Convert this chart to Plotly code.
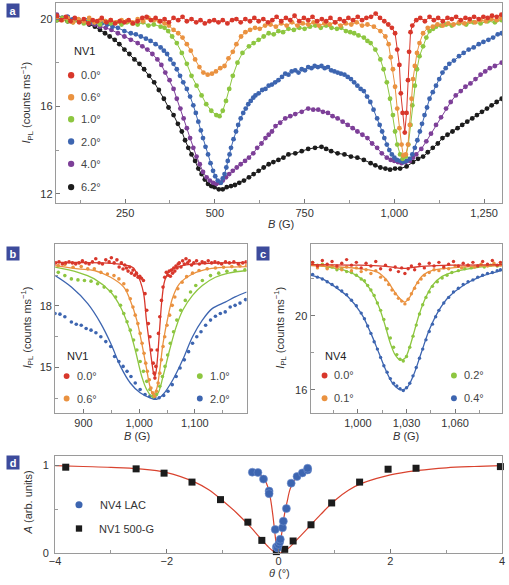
import plotly.graph_objects as go

W, H = 509, 585
def X(px): return px / W
def Y(py): return 1 - py / H

FONT = "Liberation Sans Narrow, Arial Narrow, Liberation Sans, Arial"
C_RED = "#d8372b"; C_ORA = "#ea9240"; C_GRN = "#8dc640"
C_BLU = "#3d65b0"; C_PUR = "#7d3f98"; C_BLK = "#1c1c1c"
FIT = "#d9432f"

# ---------------- Panel a : NV1, I_PL vs B ----------------
a_red_B = [60,72,85,98,110,122,135,148,160,172,185,198,210,222,235,248,260,272,285,298,310,322,335,348,360,372,385,398,410,422,435,448,460,472,485,498,510,522,535,548,560,572,585,598,610,622,635,648,660,672,685,698,710,722,735,748,760,772,785,798,810,822,835,848,860,872,885,898,910,922,935,948,960,972,983,993,1002,1008,1014,1018,1023,1029,1034,1038,1041,1045,1050,1061,1072,1085,1098,1110,1122,1135,1148,1160,1172,1185,1198,1210,1222,1235,1248,1260,1272,1285,1298]
a_red_I = [20.15,19.95,20.1,19.9,20.05,19.85,20.0,19.8,19.95,19.9,20.05,19.85,19.95,19.8,19.9,19.85,19.95,19.8,19.9,20.05,20.1,19.95,20.05,19.9,20.0,19.85,20.05,19.95,20.1,19.9,20.0,19.85,19.95,19.8,19.9,19.95,19.85,19.95,19.8,19.95,20.0,19.85,20.0,19.9,20.05,19.9,20.0,19.85,19.95,20.1,19.9,20.05,19.95,20.15,19.9,20.05,19.95,20.1,19.9,20.0,19.9,20.05,19.85,20.0,19.9,20.05,19.95,20.1,19.95,20.05,20.1,20.25,20.05,19.9,19.75,19.6,19.35,18.6,17.9,16.6,15.7,14.8,15.7,17.2,18.5,19.4,19.7,19.95,20.05,19.9,20.1,19.95,20.05,19.9,20.05,20.0,20.1,19.95,20.05,20.0,20.1,20.0,20.1,20.05,20.15,20.1,20.2]

a_ora_B = [60,75,90,105,120,135,150,165,180,195,210,225,240,255,270,285,300,315,330,345,360,372,385,398,410,422,433,445,457,468,480,492,503,515,527,538,550,560,573,585,598,612,625,640,655,670,685,700,715,730,745,760,775,790,805,820,835,850,865,880,895,910,925,943,961,975,984,990,996,1002,1008,1014,1020,1025,1032,1038,1043,1048,1052,1057,1063,1070,1080,1093,1107,1120,1135,1150,1165,1180,1195,1210,1225,1240,1255,1270,1285,1298]
a_ora_I = [20.1,19.95,20.05,19.85,20.0,19.9,20.05,19.85,19.95,19.9,19.95,19.85,19.95,19.9,19.85,20.0,19.9,20.05,19.95,19.9,19.8,19.7,19.5,19.35,19.15,18.85,18.55,18.15,17.8,17.55,17.45,17.5,17.6,17.75,17.85,18.2,18.5,18.85,19.2,19.4,19.5,19.6,19.55,19.7,19.75,19.65,19.8,19.7,19.85,19.7,19.8,19.75,19.85,19.7,19.8,19.75,19.85,19.7,19.8,19.75,19.85,19.7,19.75,19.65,19.45,19.2,18.85,18.25,17.7,16.9,15.9,15.0,14.25,13.75,13.8,14.25,15.15,16.35,17.25,17.85,18.45,18.9,19.35,19.6,19.65,19.75,19.7,19.8,19.75,19.85,19.8,19.9,19.85,19.95,19.9,20.0,19.95,20.05]

a_grn_B = [60,75,90,105,120,135,150,165,180,195,210,225,240,255,270,285,300,315,330,349,360,370,381,394,408,422,435,449,463,476,490,504,513,522,531,540,550,563,577,595,608,622,636,650,664,677,690,705,720,735,750,765,780,795,810,825,840,852,865,877,888,900,915,925,934,947,961,970,979,988,996,1002,1008,1016,1023,1032,1039,1045,1050,1057,1063,1070,1080,1089,1098,1108,1116,1130,1144,1160,1180,1200,1220,1240,1260,1280,1299]
a_grn_I = [19.95,20.05,19.9,19.85,19.95,19.8,19.9,19.85,19.75,19.9,19.8,19.85,19.75,19.85,19.8,19.75,19.85,19.7,19.75,19.65,19.6,19.45,19.2,18.9,18.45,17.95,17.4,16.95,16.5,16.1,15.8,15.6,15.55,15.8,16.25,16.8,17.4,18.0,18.45,18.75,18.9,19.05,19.2,19.35,19.3,19.45,19.4,19.55,19.5,19.6,19.55,19.65,19.7,19.6,19.7,19.6,19.55,19.6,19.45,19.4,19.35,19.25,19.15,19.0,18.9,18.6,18.15,17.7,17.1,16.35,15.6,14.85,14.25,13.8,13.6,13.7,14.25,15.15,16.05,16.95,17.7,18.3,18.75,19.15,19.45,19.55,19.65,19.7,19.75,19.7,19.8,19.75,19.85,19.8,19.9,19.85,19.95]

a_blu_B = [60,75,90,105,120,139,155,170,185,200,215,230,248,266,280,294,308,321,335,349,358,367,376,385,394,403,412,422,431,440,447,454,461,467,474,481,488,495,501,508,517,522,527,532,536,541,545,552,559,565,572,579,586,593,600,607,613,622,632,641,650,659,668,677,687,696,705,714,724,733,742,751,760,769,778,787,797,806,815,824,833,842,851,861,870,879,888,897,906,915,924,933,942,952,959,966,972,979,986,993,1000,1007,1016,1025,1034,1043,1050,1057,1064,1071,1077,1084,1091,1098,1107,1116,1125,1134,1143,1153,1166,1180,1193,1207,1221,1235,1248,1262,1275,1288,1299]
a_blu_I = [20.15,20.05,20.1,20.0,19.95,19.95,19.9,19.85,19.8,19.75,19.65,19.6,19.45,19.35,19.3,19.2,19.1,19.0,18.85,18.7,18.55,18.4,18.15,17.95,17.7,17.4,17.1,16.8,16.45,16.05,15.7,15.3,14.9,14.55,14.15,13.8,13.4,13.05,12.8,12.6,12.5,12.7,12.9,13.2,13.5,13.8,14.1,14.5,14.85,15.15,15.45,15.7,15.9,16.1,16.25,16.4,16.5,16.6,16.75,16.8,16.95,17.0,17.1,17.2,17.35,17.5,17.45,17.6,17.65,17.55,17.7,17.65,17.8,17.75,17.85,17.8,17.85,17.75,17.8,17.65,17.6,17.55,17.5,17.45,17.35,17.25,17.1,16.95,16.8,16.7,16.45,16.2,15.85,15.45,15.15,14.85,14.55,14.25,14.0,13.8,13.65,13.55,13.5,13.45,13.5,13.6,13.8,14.1,14.45,14.85,15.2,15.6,15.95,16.35,16.65,16.95,17.25,17.55,17.75,17.95,18.1,18.3,18.45,18.6,18.7,18.85,18.95,19.05,19.15,19.3,19.35]

a_pur_B = [60,75,90,105,121,135,150,166,180,196,212,230,248,266,285,298,312,326,340,351,362,374,385,394,404,413,422,431,440,449,458,467,477,486,495,504,513,522,531,540,550,561,572,584,595,607,618,630,641,650,659,669,682,696,710,724,742,760,774,788,801,815,828,842,856,870,884,897,911,925,938,952,965,979,990,1000,1010,1020,1031,1043,1052,1061,1075,1089,1102,1116,1130,1144,1157,1171,1185,1198,1212,1226,1240,1253,1266,1280,1299]
a_pur_I = [20.2,20.05,20.1,19.95,19.95,19.85,19.8,19.75,19.65,19.6,19.5,19.35,19.2,19.05,18.9,18.75,18.6,18.4,18.15,17.9,17.55,17.2,16.8,16.35,15.9,15.45,15.0,14.55,14.1,13.7,13.35,13.0,12.75,12.6,12.5,12.45,12.5,12.6,12.75,12.9,13.05,13.2,13.35,13.5,13.65,13.85,14.1,14.3,14.55,14.7,14.85,15.1,15.25,15.45,15.55,15.65,15.75,15.9,15.85,15.85,15.75,15.7,15.55,15.45,15.3,15.15,15.0,14.85,14.7,14.55,14.3,14.1,13.85,13.65,13.55,13.5,13.45,13.4,13.45,13.5,13.65,13.8,14.05,14.4,14.75,15.15,15.5,15.9,16.2,16.5,16.7,16.9,17.05,17.25,17.45,17.6,17.75,17.85,18.0]

a_blk_B = [60,75,90,105,121,135,150,166,180,194,207,221,234,248,262,276,290,303,317,331,344,358,371,385,397,408,417,426,435,445,454,463,472,481,490,499,511,522,533,545,556,568,581,595,608,622,636,650,663,677,691,705,724,742,760,779,797,810,824,842,861,879,897,915,934,947,961,975,988,1002,1016,1034,1052,1066,1080,1093,1107,1121,1134,1148,1162,1176,1189,1203,1217,1230,1244,1258,1271,1285,1299]
a_blk_I = [19.95,20.0,19.9,19.95,19.9,19.85,19.75,19.65,19.5,19.35,19.2,19.05,18.85,18.6,18.4,18.15,17.95,17.7,17.4,17.1,16.75,16.35,15.95,15.6,15.2,14.85,14.45,14.1,13.8,13.5,13.15,12.9,12.65,12.45,12.35,12.3,12.2,12.2,12.3,12.35,12.4,12.5,12.6,12.75,12.9,13.05,13.2,13.35,13.45,13.55,13.65,13.8,13.85,13.95,14.05,14.1,14.15,14.05,13.95,13.85,13.8,13.7,13.65,13.55,13.4,13.3,13.2,13.15,13.1,13.15,13.15,13.25,13.45,13.6,13.7,13.9,14.1,14.3,14.55,14.7,14.85,15.0,15.15,15.3,15.45,15.6,15.75,15.9,16.05,16.2,16.35]

a_series = [("6.2°", a_blk_B, a_blk_I, C_BLK), ("4.0°", a_pur_B, a_pur_I, C_PUR),
            ("2.0°", a_blu_B, a_blu_I, C_BLU), ("1.0°", a_grn_B, a_grn_I, C_GRN),
            ("0.6°", a_ora_B, a_ora_I, C_ORA), ("0.0°", a_red_B, a_red_I, C_RED)]

# ---------------- Panel b : NV1 zoom near LAC ----------------
b_red_B = [850,856,862,868,874,880,886,892,898,904,910,916,922,928,934,940,946,950,955,960,964,968,971,974,977,980,983,986,989,992,995,998,1001,1004,1007.6,1010.5,1013.5,1016.4,1019.3,1022,1025.2,1027,1028.2,1030,1032.3,1034.6,1037,1040,1042.8,1045.8,1048.7,1052,1054,1056,1058,1060,1062,1064,1066,1068,1070,1072,1075,1078,1081,1084,1087,1090,1094,1098,1103,1108,1113,1118,1124,1130,1136,1142,1148,1155,1162,1170,1178,1186,1192]
b_red_I = [20.1,20.15,20.05,20.1,20.15,20.1,20.05,20.1,20.2,20.1,20.05,20.15,20.3,20.1,20.05,20.25,20.15,20.35,20.1,20.25,19.9,20.1,19.8,20.0,19.85,19.7,19.9,19.6,19.75,19.5,19.6,19.4,19.45,19.35,19.24,18.6,17.79,17.14,16.5,15.85,15.21,14.72,14.48,15.05,15.85,16.66,17.47,18.27,18.92,19.4,19.64,19.5,19.7,19.45,19.75,19.6,19.85,19.7,19.95,19.85,20.05,20.1,19.9,20.2,20.05,20.3,20.1,20.2,20.0,20.1,20.2,20.05,20.15,20.1,20.2,20.1,20.15,20.1,20.05,20.15,20.1,20.15,20.05,20.1,20.15]
b_red_fit_B = [850,900,950,980,990,996,1002,1008,1013,1019,1023,1026,1028,1030,1033,1037,1041,1046,1055,1078,1125,1193]
b_red_fit_I = [20.13,20.12,20.08,19.97,19.85,19.56,19.2,18.6,17.3,16.02,15.2,14.7,14.56,14.75,15.5,17.0,18.35,19.25,19.72,19.97,20.08,20.12]

b_ora_B = [854.7,866.5,881.2,895.9,907.6,919.4,931.1,942.9,954.7,963.5,972.3,978.2,984,988.8,992.9,997.6,1001.7,1005.2,1008.7,1011.7,1014.6,1018.2,1021.1,1024,1027.6,1031,1034,1037,1039.9,1042.8,1045.8,1049.9,1054.6,1059.3,1064,1069.3,1077,1085.2,1095.8,1107.5,1122.2,1136.9,1151.6,1166.3,1181,1192.8]
b_ora_I = [19.97,20.02,19.89,19.92,19.81,19.81,19.64,19.56,19.48,19.32,19.08,18.76,18.35,17.95,17.55,17.14,16.66,16.18,15.69,15.21,14.81,14.4,14.0,13.76,13.6,13.84,14.24,14.72,15.37,16.02,16.5,17.06,17.55,18.03,18.44,18.84,19.16,19.43,19.6,19.73,19.81,19.85,19.89,19.92,19.95,19.97]
b_ora_fit_B = [849,890,919.4,948.8,972.3,984,995.8,1004.6,1013.5,1019.3,1025.2,1031,1037,1042.8,1051.7,1060.5,1072.2,1095.8,1125.2,1193]
b_ora_fit_I = [19.97,19.81,19.73,19.4,18.92,18.27,17.3,16.18,14.89,14.08,13.68,13.92,14.89,16.18,17.47,18.44,19.08,19.56,19.81,19.92]

b_grn_B = [854.7,866.5,878.2,890,901.7,913.5,925.3,937,948.8,957.6,966.4,972.3,978.2,984,989.9,995.8,1001.7,1007.6,1013.5,1019.3,1025.2,1031,1037,1041.7,1046.4,1051.1,1055.8,1061.7,1067.5,1074.6,1082.8,1092.2,1101.6,1113.4,1128.1,1142.8,1157.5,1172.2,1189.8]
b_grn_I = [19.64,19.48,19.32,19.27,19.24,19.21,19.08,18.92,18.72,18.44,18.03,17.63,17.23,16.82,16.34,15.85,15.29,14.81,14.32,13.92,13.63,13.68,14.08,14.56,15.05,15.61,16.18,16.74,17.31,17.79,18.27,18.68,19.0,19.24,19.48,19.6,19.69,19.73,19.76]
b_grn_fit_B = [849,890,919.4,948.8,966.4,981.1,992.9,1004.6,1013.5,1025.2,1034,1042.8,1054.6,1066.4,1078.1,1095.8,1113.4,1136.9,1160.4,1193]
b_grn_fit_I = [19.89,19.64,19.32,18.68,17.95,16.98,15.85,14.56,13.92,13.52,13.76,14.56,15.85,16.98,17.79,18.52,19.0,19.4,19.6,19.73]

b_blu_B = [848.8,857.7,866.5,878.2,887,895.9,904.7,913.5,922.3,931.1,940,948.8,955.8,963.5,971.1,978.2,985.2,992.9,1001.7,1010.5,1019.3,1028.1,1035.8,1044,1051.7,1059.3,1066.4,1073.4,1081.1,1088.7,1095.8,1103.4,1111,1119.3,1128.1,1136.9,1145.7,1154.5,1163.4,1172.2,1181,1191]
b_blu_I = [17.63,17.6,17.47,17.22,17.11,17.06,16.9,16.82,16.69,16.5,16.26,16.02,15.53,15.29,15.05,14.81,14.56,14.24,13.92,13.68,13.6,13.52,13.52,13.63,13.84,14.16,14.56,14.97,15.37,15.77,16.18,16.5,16.74,17.06,17.31,17.5,17.63,17.71,17.95,18.03,18.14,18.31]
b_blu_fit_B = [849,878.2,907.6,931.1,948.8,966.4,984,1001.7,1019.3,1031,1042.8,1060.5,1078.1,1095.8,1113.4,1131,1154.5,1172.2,1193]
b_blu_fit_I = [19.48,18.92,18.11,17.14,16.18,15.05,14.24,13.76,13.52,13.44,13.68,14.4,15.37,16.5,17.31,17.87,18.19,18.44,18.68]

b_series = [("2.0°", b_blu_B, b_blu_I, b_blu_fit_B, b_blu_fit_I, C_BLU),
            ("1.0°", b_grn_B, b_grn_I, b_grn_fit_B, b_grn_fit_I, C_GRN),
            ("0.6°", b_ora_B, b_ora_I, b_ora_fit_B, b_ora_fit_I, C_ORA),
            ("0.0°", b_red_B, b_red_I, b_red_fit_B, b_red_fit_I, C_RED)]

# ---------------- Panel c : NV4 ----------------
c_red_B = [972,975,978,981,984,987,990,993,996,999,1002,1005,1008,1011,1014,1017,1020,1023,1025,1027,1029,1031,1033,1035,1038,1041,1044,1047,1050,1053,1056,1059,1062,1065,1068,1071,1074,1077,1080,1083,1086,1088]
c_red_I = [22.9,22.7,23.0,22.8,22.95,22.7,22.85,23.05,22.75,22.9,22.6,22.85,22.7,22.95,22.55,22.75,22.5,22.65,22.4,22.6,22.3,22.55,22.7,22.5,22.8,22.6,22.85,22.7,22.9,22.65,22.8,22.95,22.7,22.85,22.75,22.9,22.7,22.95,22.8,23.0,22.75,22.9]
c_red_fit_B = [971,1000,1015,1022,1028,1034,1042,1060,1089]
c_red_fit_I = [22.78,22.75,22.7,22.63,22.57,22.63,22.7,22.75,22.78]

c_ora_B = [972,975,978,981,984,987,990,993,996,999,1002,1005,1008,1011,1014,1017,1019,1021,1023,1025,1027,1029,1031,1033,1035,1037,1039,1041,1044,1047,1050,1053,1056,1060,1064,1068,1072,1076,1080,1084,1088]
c_ora_I = [22.8,22.6,22.75,22.55,22.7,22.6,22.5,22.65,22.45,22.6,22.4,22.5,22.3,22.45,22.1,21.95,21.7,21.4,21.2,20.95,20.8,20.65,20.9,21.2,21.5,21.8,22.0,22.2,22.35,22.5,22.45,22.6,22.55,22.7,22.6,22.75,22.65,22.8,22.7,22.85,22.75]
c_ora_fit_B = [971,1002,1012,1018,1022,1026,1029,1032,1035,1040,1046,1063,1089]
c_ora_fit_I = [22.73,22.55,22.37,21.92,21.38,20.93,20.75,21.02,21.56,22.19,22.46,22.64,22.73]

c_grn_B = [972,975,978,981,984,987,990,993,996,999,1002,1004,1006,1008,1010,1012,1014,1016,1018,1020,1022,1024,1026,1028,1030,1032,1034,1036,1038,1040,1042,1044,1046,1049,1052,1055,1058,1062,1066,1070,1074,1078,1082,1086,1088]
c_grn_I = [22.9,22.75,22.8,22.6,22.65,22.5,22.55,22.4,22.35,22.2,22.0,21.9,21.65,21.4,21.1,20.7,20.3,19.8,19.3,18.8,18.3,17.9,17.65,17.55,17.8,18.3,18.9,19.5,20.1,20.6,21.0,21.3,21.6,21.85,22.05,22.2,22.35,22.45,22.55,22.6,22.7,22.65,22.75,22.7,22.8]
c_grn_fit_B = [971,982,992,1002,1008,1013,1017,1020,1023,1026,1029,1032,1035,1038,1042,1046,1052,1063,1075,1089]
c_grn_fit_I = [22.82,22.64,22.46,22.01,21.38,20.48,19.41,18.51,17.88,17.61,17.7,18.33,19.23,20.13,21.02,21.65,22.14,22.46,22.64,22.78]

c_blu_B = [972,975,978,981,984,987,990,993,996,999,1002,1004,1006,1008,1010,1012,1014,1016,1018,1020,1022,1024,1026,1028,1030,1032,1034,1036,1038,1040,1042,1044,1046,1048,1050,1053,1056,1059,1062,1065,1068,1071,1074,1077,1080,1083,1086,1088]
c_blu_I = [22.25,22.1,22.0,21.85,21.7,21.55,21.35,21.15,20.85,20.55,20.15,19.85,19.45,19.05,18.6,18.2,17.75,17.3,16.95,16.6,16.35,16.2,16.05,15.95,16.1,16.35,16.75,17.2,17.7,18.2,18.7,19.15,19.55,19.95,20.3,20.7,21.0,21.3,21.5,21.7,21.85,21.95,22.1,22.2,22.3,22.35,22.45,22.5]
c_blu_fit_B = [971,978,986,994,1002,1008,1013,1018,1022,1026,1030,1034,1039,1044,1050,1056,1065,1075,1089]
c_blu_fit_I = [22.19,22.01,21.56,21.02,20.13,19.05,17.97,16.9,16.27,16.0,16.09,16.72,17.97,19.23,20.3,21.02,21.65,22.1,22.46]

c_series = [("0.4°", c_blu_B, c_blu_I, c_blu_fit_B, c_blu_fit_I, C_BLU),
            ("0.2°", c_grn_B, c_grn_I, c_grn_fit_B, c_grn_fit_I, C_GRN),
            ("0.1°", c_ora_B, c_ora_I, c_ora_fit_B, c_ora_fit_I, C_ORA),
            ("0.0°", c_red_B, c_red_I, c_red_fit_B, c_red_fit_I, C_RED)]

# ---------------- Panel d : amplitude vs angle ----------------
d_lac_theta = [-0.47,-0.37,-0.27,-0.17,-0.17,-0.06,-0.04,-0.02,0.0,0.02,0.03,0.07,0.085,0.14,0.225,0.33,0.425,0.52,0.52]
d_lac_A = [0.925,0.921,0.846,0.71,0.68,0.272,0.072,0.06,0.1,0.13,0.16,0.29,0.366,0.51,0.8,0.876,0.917,0.951,0.97]
d_500_theta = [-3.81,-2.55,-2.05,-1.55,-1.04,-0.55,-0.30,-0.04,0.11,0.26,0.58,0.95,1.45,1.96,2.46,3.97]
d_500_A = [0.982,0.963,0.914,0.812,0.612,0.355,0.147,0.019,0.045,0.14,0.325,0.574,0.812,0.959,0.97,0.989]
d_wide_theta = [-4,-3.5,-3,-2.5,-2,-1.5,-1.25,-1,-0.75,-0.5,-0.35,-0.2,-0.1,0,0.1,0.2,0.35,0.5,0.75,1,1.25,1.5,2,2.5,3,3.5,4]
d_wide_A = [1.0,0.99,0.98,0.963,0.921,0.812,0.725,0.6,0.46,0.298,0.19,0.083,0.026,0.0,0.022,0.07,0.17,0.27,0.44,0.6,0.72,0.8,0.895,0.945,0.975,0.99,1.0]
d_narrow_theta = [-0.5,-0.45,-0.4,-0.35,-0.3,-0.25,-0.2,-0.15,-0.1,-0.07,-0.04,-0.02,0.0,0.02,0.05,0.08,0.11,0.15,0.2,0.25,0.3,0.35,0.4,0.45,0.5,0.53]
d_narrow_A = [0.94,0.93,0.92,0.905,0.88,0.84,0.77,0.64,0.42,0.25,0.09,0.02,0.02,0.08,0.2,0.34,0.46,0.58,0.72,0.8,0.85,0.885,0.91,0.93,0.945,0.95]

fig = go.Figure()

for name, bx, by, col in a_series:
    fig.add_trace(go.Scatter(x=bx, y=by, mode="lines+markers", name=name, xaxis="x", yaxis="y",
                             line=dict(color=col, width=1), marker=dict(color=col, size=4.8),
                             showlegend=False, cliponaxis=True))

for name, bx, by, fx, fy, col in b_series:
    fig.add_trace(go.Scatter(x=bx, y=by, mode="markers", xaxis="x2", yaxis="y2",
                             marker=dict(color=col, size=3.6), showlegend=False))
    fig.add_trace(go.Scatter(x=fx, y=fy, mode="lines", xaxis="x2", yaxis="y2",
                             line=dict(color=col, width=1.3, shape="spline", smoothing=1.0), showlegend=False))

for name, bx, by, fx, fy, col in c_series:
    fig.add_trace(go.Scatter(x=bx, y=by, mode="markers", xaxis="x3", yaxis="y3",
                             marker=dict(color=col, size=3.4), showlegend=False))
    fig.add_trace(go.Scatter(x=fx, y=fy, mode="lines", xaxis="x3", yaxis="y3",
                             line=dict(color=col, width=1.3, shape="spline", smoothing=1.0), showlegend=False))

fig.add_trace(go.Scatter(x=d_wide_theta, y=d_wide_A, mode="lines", xaxis="x4", yaxis="y4",
                         line=dict(color=FIT, width=1.2, shape="spline"), showlegend=False, cliponaxis=False))
fig.add_trace(go.Scatter(x=d_narrow_theta, y=d_narrow_A, mode="lines", xaxis="x4", yaxis="y4",
                         line=dict(color=FIT, width=1.2, shape="spline"), showlegend=False, cliponaxis=False))
fig.add_trace(go.Scatter(x=d_500_theta, y=d_500_A, mode="markers", xaxis="x4", yaxis="y4",
                         marker=dict(color=C_BLK, size=7, symbol="square"), showlegend=False, cliponaxis=False))
fig.add_trace(go.Scatter(x=d_lac_theta, y=d_lac_A, mode="markers", xaxis="x4", yaxis="y4",
                         marker=dict(color=C_BLU, size=8, line=dict(color="#6f8fce", width=0.6)),
                         showlegend=False, cliponaxis=False))

LINE = "#9a9a9a"
def ax(**kw):
    base = dict(showline=True, mirror=True, linecolor=LINE, linewidth=1, ticks="inside",
                ticklen=4, tickcolor="#777", tickwidth=1, showgrid=False, zeroline=False,
                tickfont=dict(family=FONT, size=11, color="#333"))
    base.update(kw)
    return base
def mn(vals):
    return dict(ticks="inside", ticklen=3, tickcolor="#999", tickvals=vals)

layout = dict(
    width=W, height=H, margin=dict(l=0, r=0, t=0, b=0),
    paper_bgcolor="white", plot_bgcolor="white", font=dict(family=FONT, size=11, color="#333"),
    xaxis=ax(domain=[X(50.7), X(505)], range=[57, 1300], anchor="y", tickvals=[250, 500, 750, 1000, 1250],
             tickformat=",", minor=mn([125, 375, 625, 875, 1125])),
    yaxis=ax(domain=[Y(205), Y(2.7)], range=[11.58, 20.75], anchor="x", tickvals=[12, 16, 20],
             minor=mn([14, 18])),
    xaxis2=ax(domain=[X(50), X(245)], range=[849, 1193], anchor="y2", tickvals=[900, 1000, 1100], tickformat=",",
              minor=mn([950, 1050, 1150])),
    yaxis2=ax(domain=[Y(417), Y(247)], range=[12.79, 21.0], anchor="x2", tickvals=[15, 18],
              minor=mn([13.5, 16.5, 19.5])),
    xaxis3=ax(domain=[X(310), X(505)], range=[970.7, 1089], anchor="y3", tickvals=[1000, 1030, 1060], tickformat=",",
              minor=mn([985, 1015, 1045, 1075])),
    yaxis3=ax(domain=[Y(417), Y(247)], range=[14.75, 23.87], anchor="x3", tickvals=[16, 20],
              minor=mn([18, 22])),
    xaxis4=ax(domain=[X(50), X(505)], range=[-4, 4], anchor="y4", tickvals=[-4, -2, 0, 2, 4],
              ticklabelstandoff=-2, minor=mn([-3, -1, 1, 3])),
    yaxis4=ax(domain=[Y(559), Y(460.7)], range=[0, 1.11], anchor="x4", tickvals=[0, 1],
              ticklabelstandoff=3, minor=mn([0.5])),
)
fig.update_layout(**layout)

ann = []
shapes = []
def text(px, py, s, xanchor="left", size=11, color="#333", angle=0):
    ann.append(dict(x=X(px), y=Y(py), xref="paper", yref="paper", text=s, showarrow=False,
                    xanchor=xanchor, yanchor="middle", textangle=angle,
                    font=dict(family=FONT, size=size, color=color)))
def dot(px, py, col, r=3.2, square=False):
    shapes.append(dict(type="rect" if square else "circle", xref="paper", yref="paper",
                       x0=X(px - r), x1=X(px + r), y0=Y(py + r), y1=Y(py - r),
                       fillcolor=col, line=dict(width=0)))
def label(px, py, s):
    ann.append(dict(x=X(px), y=Y(py), xref="paper", yref="paper", text="<b>%s</b>" % s, showarrow=False,
                    xanchor="left", yanchor="top", width=12, height=13, bgcolor="#3d4b9c", borderpad=0,
                    font=dict(family="Liberation Sans, Arial", size=11, color="white")))

label(0, 3, "a"); label(0, 249, "b"); label(254, 249, "c"); label(0, 460, "d")

IPL = "<i>I</i><sub>PL</sub> (counts ms<sup>−1</sup>)"
text(21, 104, IPL, "center", 11, "#333", -90)
text(21, 331, IPL, "center", 11, "#333", -90)
text(279, 331, IPL, "center", 11, "#333", -90)
text(22, 508, "<i>A</i> (arb. units)", "center", 11, "#333", -90)
text(280, 226, "<i>B</i> (G)", "center")
text(133, 441, "<i>B</i> (G)", "center")
text(407, 441, "<i>B</i> (G)", "center")
text(278, 578.5, "<i>θ</i> (°)", "center")

# legend panel a
text(79.7, 51.7, "NV1", "center", 11, "#222")
for (s, col), yy in zip([("0.0°", C_RED), ("0.6°", C_ORA), ("1.0°", C_GRN), ("2.0°", C_BLU),
                         ("4.0°", C_PUR), ("6.2°", C_BLK)], [76, 98.3, 120.5, 143, 165.5, 189]):
    dot(66.3, yy, col)
    text(74, yy, s, "left", 11, "#444")

# legend panel b
text(72.3, 360, "NV1", "center", 11, "#222")
for s, col, cx, cy in [("0.0°", C_RED, 61.7, 380), ("0.6°", C_ORA, 61.7, 402.7),
                       ("1.0°", C_GRN, 197.3, 380), ("2.0°", C_BLU, 197.3, 402.7)]:
    dot(cx, cy, col, 3)
    text(cx + 8.3, cy, s, "left", 11, "#444")

# legend panel c
text(335, 360, "NV4", "center", 11, "#222")
for s, col, cx, cy in [("0.0°", C_RED, 324.3, 379.3), ("0.1°", C_ORA, 324.3, 402.3),
                       ("0.2°", C_GRN, 456, 379.3), ("0.4°", C_BLU, 456, 402.3)]:
    dot(cx, cy, col, 3)
    text(cx + 7.7, cy, s, "left", 11, "#444")

# legend panel d
dot(74.3, 510, C_BLU, 3.6)
text(94, 510, "NV4 LAC", "left", 11, "#333")
dot(74.3, 534, C_BLK, 3.2, square=True)
text(93, 534, "NV1 500-G", "left", 11, "#333")

fig.update_layout(annotations=ann, shapes=shapes)
fig.write_html("out.html", config={"displayModeBar": False},
               post_script="document.body.style.margin='0';document.body.style.padding='0';"
                           "document.documentElement.style.overflow='hidden';")
